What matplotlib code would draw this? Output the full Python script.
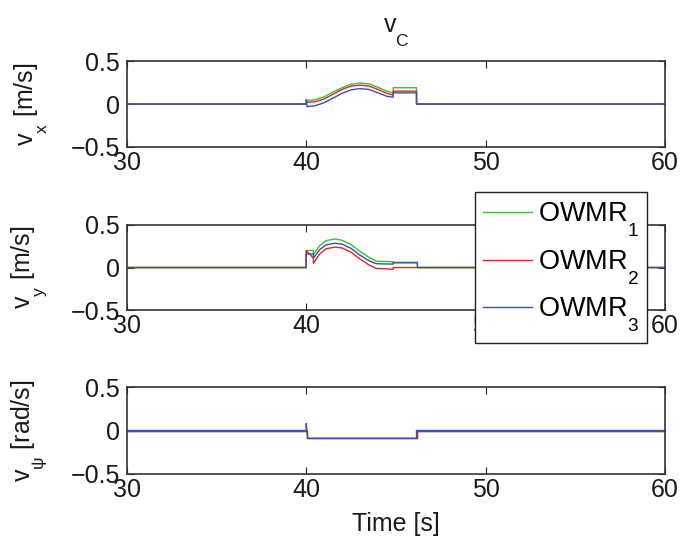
import matplotlib
matplotlib.use("Agg")
import matplotlib.pyplot as plt
import matplotlib._mathtext as mathtext_impl
from matplotlib.lines import Line2D

plt.rcParams['font.family'] = ['Liberation Sans', 'DejaVu Sans']
plt.rcParams['mathtext.fontset'] = 'custom'
plt.rcParams['mathtext.rm'] = 'Liberation Sans'
plt.rcParams['mathtext.it'] = 'Liberation Sans'
plt.rcParams['mathtext.default'] = 'regular'
# lower subscripts, in the style of TeX-interpreted labels
mathtext_impl.FontConstantsBase.sub1 = 1.05

# ---- data: body velocities of the three robots ----
series_names = ['OWMR$_1$', 'OWMR$_2$', 'OWMR$_3$']
series_colors = ['#3cbf2c', '#e82222', '#3a50b0']

# v_x [m/s]
t_vx = [30, 40.0, 40.05, 40.5, 41.0, 41.5, 42.0, 42.5, 43.0, 43.5, 44.0, 44.5,
        44.85, 44.85, 46.15, 46.15, 60]
vx_1 = [0, 0, 0.04, 0.05, 0.085, 0.14, 0.19, 0.23, 0.245, 0.235, 0.195, 0.15,
        0.13, 0.19, 0.19, 0, 0]
vx_2 = [0, 0, 0.02, 0.027, 0.06, 0.115, 0.17, 0.21, 0.22, 0.21, 0.17, 0.125,
        0.105, 0.15, 0.15, 0, 0]
t_vx3 = [30, 40.0, 40.0, 40.05, 40.5, 41.0, 41.5, 42.0, 42.5, 43.0, 43.5, 44.0,
         44.5, 44.85, 44.85, 46.15, 46.15, 60]
vx_3 = [0, 0, 0.05, -0.03, -0.02, 0.015, 0.07, 0.125, 0.165, 0.18, 0.17, 0.13,
        0.09, 0.08, 0.13, 0.13, 0, 0]

# v_y [m/s]
t_vy = [30, 40.0, 40.0, 40.4, 40.4, 40.75, 41.1, 41.6, 42.0, 42.5, 43.0, 43.5,
        43.9, 44.85, 44.85, 46.2, 46.2, 60]
vy_1 = [0, 0, 0.20, 0.20, 0.15, 0.257, 0.315, 0.335, 0.32, 0.27, 0.19, 0.12,
        0.075, 0.068, 0.062, 0.062, 0, 0]
vy_2 = [0, 0, 0.20, 0.11, 0.05, 0.16, 0.22, 0.24, 0.23, 0.18, 0.10, 0.03,
        -0.01, -0.02, 0.0, 0.0, 0, 0]
vy_3 = [0, 0, 0.16, 0.16, 0.11, 0.21, 0.265, 0.285, 0.275, 0.225, 0.145, 0.08,
        0.045, 0.04, 0.055, 0.055, 0, 0]

# v_psi [rad/s]
t_vpsi = [30, 40.05, 40.05, 46.15, 46.15, 60]
vpsi_1 = [0, 0, -0.09, -0.09, 0, 0]
vpsi_2 = [0, 0, -0.09, -0.09, 0, 0]
t_vpsi3 = [30, 40.0, 40.0, 40.08, 40.08, 46.15, 46.15, 60]
vpsi_3 = [0, 0, 0.08, -0.09, -0.09, -0.09, 0, 0]

x_ticks = [30, 40, 50, 60]
y_ticks = [-0.5, 0, 0.5]

panels = [
    ([(t_vx, vx_1), (t_vx, vx_2), (t_vx3, vx_3)], 'v$_x$ [m/s]'),
    ([(t_vy, vy_1), (t_vy, vy_2), (t_vy, vy_3)], 'v$_y$ [m/s]'),
    ([(t_vpsi, vpsi_1), (t_vpsi, vpsi_2), (t_vpsi3, vpsi_3)], 'v$_\u03c8$ [rad/s]'),
]
positions = [
    [0.186, 0.731, 0.789, 0.157],
    [0.186, 0.432, 0.789, 0.156],
    [0.186, 0.132, 0.789, 0.159],
]

fig = plt.figure(figsize=(6.82, 5.46), dpi=100)
fs = 18
axes = []
for (curves, ylab), pos in zip(panels, positions):
    ax = fig.add_axes(pos)
    for (t, v), c in zip(curves, series_colors):
        ax.plot(t, v, color=c, lw=1.0)
    ax.set_xlim(30, 60)
    ax.set_ylim(-0.5, 0.5)
    ax.set_xticks(x_ticks)
    ax.set_yticks(y_ticks)
    ax.set_yticklabels(['\u22120.5', '0', '0.5'])
    ax.tick_params(direction='in', top=True, right=True, length=5, width=0.8,
                   labelsize=fs, pad=5, colors='#222222', labelcolor='#1a1a1a')
    ax.tick_params(axis='x', pad=3)
    for s in ax.spines.values():
        s.set_color('#333333')
        s.set_linewidth(1.2)
    ax.set_ylabel(ylab, fontsize=fs, color='#1a1a1a')
    ax.yaxis.set_label_coords(-0.143, 0.5)
    axes.append(ax)

axes[-1].set_xlabel('Time [s]', fontsize=fs, color='#1a1a1a', labelpad=7)
fig.text(0.5806, 1 - 33 / 546, 'v$_C$', fontsize=fs, ha='center', va='center',
         color='#1a1a1a')

handles = [Line2D([], [], color=c, lw=1.0) for c in series_colors]
leg = fig.legend(handles, series_names, loc='upper left',
                 bbox_to_anchor=(0.6965, 0.648), borderaxespad=0,
                 fontsize=19.5, frameon=True, fancybox=False, framealpha=1,
                 handlelength=1.81, handletextpad=0.22, borderpad=0.3,
                 labelspacing=0.33)
leg.get_frame().set_edgecolor('#222222')
leg.get_frame().set_linewidth(1.0)

fig.savefig('out.png', dpi=100)
